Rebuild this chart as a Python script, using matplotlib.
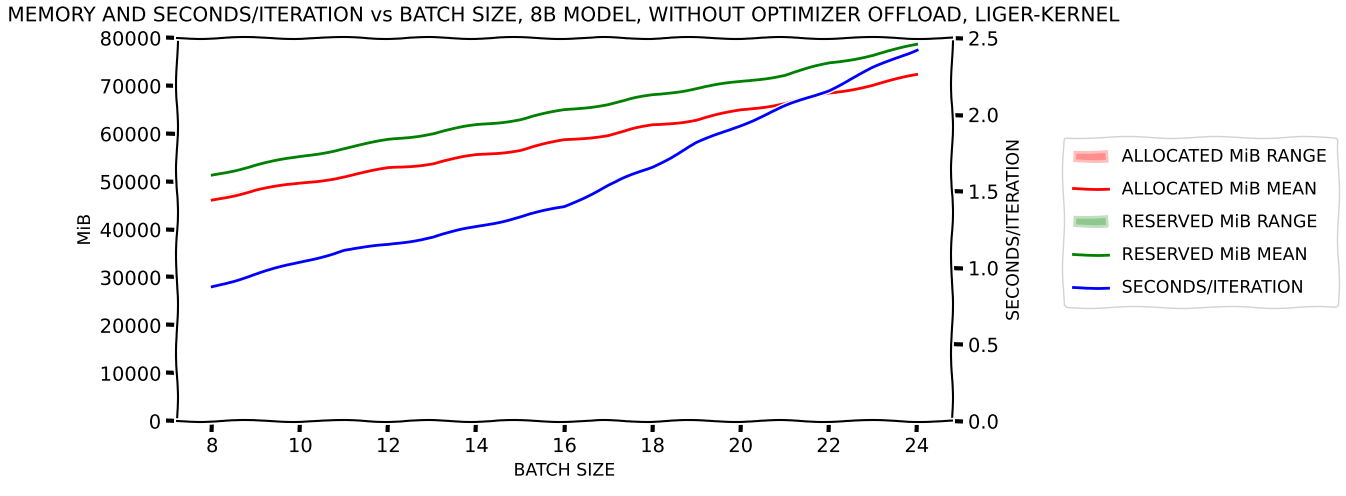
import matplotlib
matplotlib.use("Agg")
import matplotlib.pyplot as plt

batch_size = [8, 9, 10, 11, 12, 13, 14, 15, 16, 17, 18, 19, 20, 21, 22, 23, 24]

allocated_mean = [46160, 48250, 49650, 51040, 52780, 53820, 55560, 56600, 58690,
                  59740, 61830, 62870, 64960, 66360, 68440, 70180, 72270]
allocated_min = [45950, 48050, 49450, 50850, 52600, 53650, 55400, 56450, 58550,
                 59600, 61700, 62750, 64850, 66250, 68350, 70100, 72200]
allocated_max = [46800, 48800, 50150, 51450, 53150, 54150, 55850, 56850, 58900,
                 59900, 61950, 62980, 65050, 66450, 68520, 70250, 72330]

reserved_mean = [51380, 53470, 55210, 56950, 58690, 60090, 61830, 63020, 64960,
                 66210, 68090, 69480, 70870, 72270, 74710, 76450, 78540]
reserved_min = [51300, 53400, 55150, 56900, 58650, 60050, 61800, 62980, 64920,
                66180, 68060, 69450, 70840, 72240, 74680, 76420, 78510]
reserved_max = [51450, 53540, 55270, 57000, 58730, 60130, 61860, 63060, 65000,
                66240, 68120, 69510, 70900, 72300, 74740, 76480, 78570]

seconds_per_iter = [0.877, 0.96, 1.036, 1.116, 1.149, 1.203, 1.268, 1.334, 1.399,
                    1.54, 1.66, 1.813, 1.932, 2.052, 2.161, 2.302, 2.426]

x_ticks = [8, 10, 12, 14, 16, 18, 20, 22, 24]
mem_ticks = [0, 10000, 20000, 30000, 40000, 50000, 60000, 70000, 80000]
sec_ticks = [0.0, 0.5, 1.0, 1.5, 2.0, 2.5]

with plt.xkcd():
    plt.rcParams["font.family"] = ["DejaVu Sans"]
    fig = plt.figure(figsize=(13.46, 4.96), dpi=100)
    ax = fig.add_axes([0.1315, 0.151, 0.5758, 0.7724])
    ax2 = ax.twinx()

    ax.fill_between(batch_size, allocated_min, allocated_max, color="red", alpha=0.25,
                    linewidth=0, label="ALLOCATED MiB RANGE")
    ax.plot(batch_size, allocated_mean, color="red", label="ALLOCATED MiB MEAN")
    ax.fill_between(batch_size, reserved_min, reserved_max, color="green", alpha=0.25,
                    linewidth=0, label="RESERVED MiB RANGE")
    ax.plot(batch_size, reserved_mean, color="green", label="RESERVED MiB MEAN")
    ax2.plot(batch_size, seconds_per_iter, color="blue", label="SECONDS/ITERATION")

    ax.set_xlim(7.2, 24.8)
    ax.set_ylim(0, 80000)
    ax2.set_ylim(0, 2.5)
    ax.set_xticks(x_ticks)
    ax.set_yticks(mem_ticks)
    ax2.set_yticks(sec_ticks)
    ax2.set_yticklabels([f"{t:.1f}" for t in sec_ticks])

    ax.tick_params(labelsize=14)
    ax2.tick_params(labelsize=14)
    ax.set_xlabel("BATCH SIZE", fontsize=12.5)
    ax.set_ylabel("MiB", fontsize=12.5)
    ax2.set_ylabel("SECONDS/ITERATION", fontsize=12.5)
    ax.set_title("MEMORY AND SECONDS/ITERATION vs BATCH SIZE, 8B MODEL, "
                 "WITHOUT OPTIMIZER OFFLOAD, LIGER-KERNEL", fontsize=14.5, pad=12)

    h1, l1 = ax.get_legend_handles_labels()
    h2, l2 = ax2.get_legend_handles_labels()
    fig.legend(h1 + h2, l1 + l2, loc="center left", bbox_to_anchor=(0.783, 0.552),
               fontsize=12.5, labelspacing=0.85, borderpad=0.6,
               edgecolor="lightgray", framealpha=1)

    fig.savefig("out.png", dpi=100)
